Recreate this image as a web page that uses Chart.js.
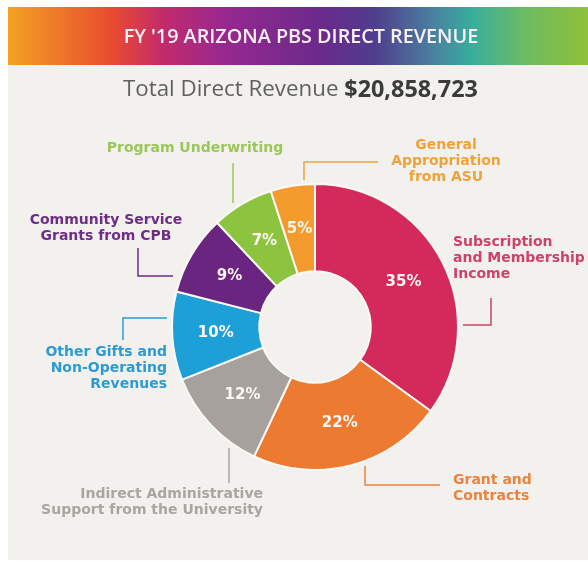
<!DOCTYPE html>
<html>
<head>
<meta charset="utf-8">
<title>FY '19 Arizona PBS Direct Revenue</title>
<script src="https://cdn.jsdelivr.net/npm/chart.js@4.4.1/dist/chart.umd.min.js"></script>
<style>
  html, body { margin: 0; padding: 0; background: #ffffff; }
  #wrap { width: 588px; height: 568px; }
</style>
</head>
<body>
<div id="wrap"><canvas id="canvas" width="588" height="568"></canvas></div>
<script>
// chart data, clockwise from 12 o'clock
const title = "FY '19 ARIZONA PBS DIRECT REVENUE";
const totalLabel = 'Total Direct Revenue ';
const totalValue = '$20,858,723';
const categories = [
    'Subscription and Membership Income',
    'Grant and Contracts',
    'Indirect Administrative Support from the University',
    'Other Gifts and Non-Operating Revenues',
    'Community Service Grants from CPB',
    'Program Underwriting',
    'General Appropriation from ASU'
];
const shares = [35, 22, 12, 10, 9, 7, 5];
const sliceColors = ['#d4295b', '#ec7a30', '#a6a19c', '#1d9fd8', '#6a2581', '#8dc43f', '#f39b2c'];
const textColors  = ['#d13f6b', '#e8843f', '#a9a5a1', '#2b9cd2', '#6e2d86', '#9bc65a', '#f0a23a'];
const labelLines = [
    ['Subscription', 'and Membership', 'Income'],
    ['Grant and', 'Contracts'],
    ['Indirect Administrative', 'Support from the University'],
    ['Other Gifts and', 'Non-Operating', 'Revenues'],
    ['Community Service', 'Grants from CPB'],
    ['Program Underwriting'],
    ['General', 'Appropriation', 'from ASU']
];

// where each callout text sits and how its leader line runs
const callouts = [
    {x: 453, y: 242, align: 'left',   path: [[491, 298], [491, 325], [463, 325]]},
    {x: 453, y: 480, align: 'left',   path: [[365, 466], [365, 485], [440, 485]]},
    {x: 263, y: 494, align: 'right',  path: [[229, 448], [229, 483]]},
    {x: 167, y: 352, align: 'right',  path: [[167, 318], [123, 318], [123, 340]]},
    {x: 106, y: 220, align: 'center', path: [[138, 248], [138, 276], [173, 276]]},
    {x: 195, y: 148, align: 'center', path: [[233, 163], [233, 203]]},
    {x: 446, y: 145, align: 'center', path: [[378, 162], [304, 162], [304, 180]]}
];

const FONT = '"Open Sans", "DejaVu Sans", sans-serif';
const LABEL_FONT = '"DejaVu Sans", sans-serif';

// font size so a text spans the wanted width
function fitSize(ctx, text, weight, family, base, width) {
    ctx.font = weight + ' ' + base + 'px ' + family;
    return base * width / ctx.measureText(text).width;
}

const decorations = {
    id: 'decorations',
    beforeDraw(chart) {
        const ctx = chart.ctx;
        ctx.save();
        // panel
        ctx.fillStyle = '#f3f1ee';
        ctx.fillRect(8, 8, 580, 552);
        // header gradient
        const g = ctx.createLinearGradient(8, 0, 588, 0);
        g.addColorStop(0.00, '#f4a222');
        g.addColorStop(0.18, '#e84b30');
        g.addColorStop(0.27, '#c22a6c');
        g.addColorStop(0.37, '#982890');
        g.addColorStop(0.54, '#6a2a8a');
        g.addColorStop(0.63, '#503c8c');
        g.addColorStop(0.73, '#4a7ea0');
        g.addColorStop(0.80, '#38ae9e');
        g.addColorStop(0.89, '#6cbb62');
        g.addColorStop(1.00, '#8ec03a');
        ctx.fillStyle = g;
        ctx.fillRect(8, 7, 580, 58);
        // title
        const ts = fitSize(ctx, title, '600', FONT, 18, 355);
        ctx.fillStyle = '#fbf0f6';
        ctx.font = '600 ' + ts + 'px ' + FONT;
        ctx.textAlign = 'center';
        ctx.textBaseline = 'middle';
        ctx.fillText(title, 301, 37);
        // total line
        ctx.font = '21px ' + FONT;
        const w1 = ctx.measureText(totalLabel).width;
        ctx.font = 'bold 22px ' + FONT;
        const w2 = ctx.measureText(totalValue).width;
        const k = 355 / (w1 + w2);
        const x0 = 123;
        ctx.textAlign = 'left';
        ctx.font = (21 * k) + 'px ' + FONT;
        ctx.fillStyle = '#606060';
        ctx.fillText(totalLabel, x0, 90);
        ctx.font = 'bold ' + (22 * k) + 'px ' + FONT;
        ctx.fillStyle = '#3b3b3b';
        ctx.fillText(totalValue, x0 + w1 * k, 90);
        ctx.restore();
    },
    afterDraw(chart) {
        const ctx = chart.ctx;
        const arcs = chart.getDatasetMeta(0).data;
        ctx.save();
        ctx.textBaseline = 'middle';
        // percentages on the ring
        ctx.font = 'bold 15px ' + LABEL_FONT;
        ctx.textAlign = 'center';
        ctx.fillStyle = '#fdf6f2';
        arcs.forEach(function(arc, i) {
            const p = arc.tooltipPosition();
            ctx.fillText(shares[i] + '%', p.x, p.y);
        });
        // callouts
        callouts.forEach(function(c, i) {
            ctx.strokeStyle = textColors[i];
            ctx.lineWidth = 1.5;
            ctx.beginPath();
            c.path.forEach(function(pt, k) {
                if (k === 0) ctx.moveTo(pt[0], pt[1]); else ctx.lineTo(pt[0], pt[1]);
            });
            ctx.stroke();
            ctx.fillStyle = textColors[i];
            ctx.font = 'bold 14px ' + LABEL_FONT;
            ctx.textAlign = c.align;
            labelLines[i].forEach(function(line, k) {
                ctx.fillText(line, c.x, c.y + k * 16);
            });
        });
        ctx.restore();
    }
};

const ctx = document.getElementById('canvas').getContext('2d');
const config = {
    type: 'doughnut',
    data: {
        labels: categories,
        datasets: [{
            data: shares,
            backgroundColor: sliceColors,
            borderColor: '#faf8f5',
            borderWidth: 2
        }]
    },
    options: {
        responsive: false,
        animation: false,
        cutout: '39%',
        layout: { padding: { left: 171, right: 129, top: 183, bottom: 97 } },
        plugins: {
            legend: { display: false },
            tooltip: { enabled: false }
        }
    },
    plugins: [decorations]
};
const chart = new Chart(ctx, config);
</script>
</body>
</html>
